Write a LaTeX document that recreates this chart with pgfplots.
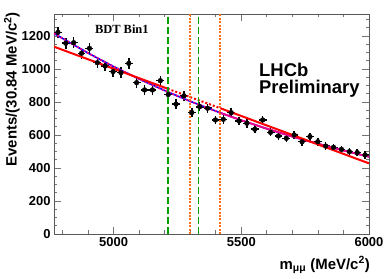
\documentclass[border=0pt]{standalone}
\usepackage{pgfplots}
\pgfplotsset{compat=1.18}
\usepackage{pgfplotstable}
\usepackage{fontspec}
\setmainfont{Liberation Sans}
\newfontfamily\serifbold{Liberation Serif}
\definecolor{rootgreen}{RGB}{0,160,0}
\definecolor{rootorange}{RGB}{255,110,20}

\pgfplotstableread{
x y ex ey
4781.82 1222 15.42 35
4812.66 1156 15.42 34
4843.50 1159 15.42 34
4874.34 1095 15.42 33
4905.18 1125 15.42 34
4936.02 1038 15.42 32
4966.86 1018 15.42 32
4997.70 984 15.42 31
5028.54 978 15.42 31
5059.38 1034 15.42 32
5090.22 917 15.42 30
5121.06 873 15.42 30
5151.90 873 15.42 30
5182.74 929 15.42 30
5213.58 845 15.42 29
5244.42 787 15.42 28
5275.26 837 15.42 29
5306.10 736 15.42 27
5336.94 771 15.42 28
5367.78 762 15.42 28
5398.62 691 15.42 26
5429.46 695 15.42 26
5460.30 735 15.42 27
5491.14 685 15.42 26
5521.98 671 15.42 26
5552.82 635 15.42 25
5583.66 691 15.42 26
5614.50 616 15.42 25
5645.34 594 15.42 24
5676.18 580 15.42 24
5707.02 600 15.42 24
5737.86 559 15.42 24
5768.70 590 15.42 24
5799.54 559 15.42 24
5830.38 533 15.42 23
5861.22 525 15.42 23
5892.06 513 15.42 23
5922.90 499 15.42 22
5953.74 493 15.42 22
5984.58 479 15.42 22
}\datatable

\pgfplotstableread{
x y
4766.4 1215
4900 1096
5000 1014
5100 939
5212 861
5300 804
5418 734
5500 689
5600 638
5700 590
5800 547
5900 506
6000 468
}\expfit

\begin{document}
\begin{tikzpicture}
\path (-54bp,-45bp) rectangle (335bp,234bp);
\begin{axis}[
  at={(0,0)}, anchor=south west,
  scale only axis, width=315bp, height=220bp,
  xmin=4766.4, xmax=6000, ymin=0, ymax=1333,
  xtick={5000,5500,6000},
  minor xtick={4800,4900,5100,5200,5300,5400,5600,5700,5800,5900},
  ytick={0,200,400,600,800,1000,1200},
  minor ytick={50,100,150,250,300,350,450,500,550,650,700,750,850,900,950,1050,1100,1150,1250,1300},
  tick align=inside, xtick pos=both, ytick pos=both,
  xticklabel pos=lower, yticklabel pos=left,
  major tick length=7bp, minor tick length=3.5bp,
  tick style={black!55, line width=0.8bp},
  axis line style={black!65, line width=0.8bp},
  /pgf/number format/assume math mode=true,
  /pgf/number format/1000 sep={},
  ticklabel style={font=\bfseries\fontsize{13}{15}\selectfont},
  clip=true,
]
\addplot[only marks, mark=*, mark size=2.4bp, black,
  error bars/.cd, x dir=both, x explicit, y dir=both, y explicit,
  error mark=none, error bar style={line width=1.5bp, black}]
  table[x=x, y=y, x error=ex, y error=ey]{\datatable};

% blue exponential fit
\addplot[blue, line width=1.6bp, mark=none] table[x=x,y=y]{\expfit};
% magenta: dotted in the left part, solid in the right part
\addplot[magenta, line width=1.9bp, dash pattern=on 1.9bp off 1.9bp, mark=none, restrict x to domain=4766:5418] table[x=x,y=y]{\expfit};
\addplot[magenta, line width=1.9bp, mark=none, restrict x to domain=5418:6000] table[x=x,y=y]{\expfit};
% red linear fit
\addplot[red, line width=2bp, mark=none] coordinates {(4766.4,1135) (5212,880)};
\addplot[red, line width=2bp, dash pattern=on 2bp off 2bp, mark=none] coordinates {(5212,880) (5418,762)};
\addplot[red, line width=2bp, mark=none] coordinates {(5418,762) (6000,428)};

% windows
\addplot[draw=rootgreen, line width=1.6bp, dash pattern=on 7bp off 3bp, mark=none] coordinates {(5212,0) (5212,1333)};
\addplot[draw=rootgreen, line width=1.6bp, dash pattern=on 7bp off 3bp, mark=none] coordinates {(5332,0) (5332,1333)};
\addplot[draw=rootorange, line width=1.8bp, dash pattern=on 2bp off 1.4bp, mark=none] coordinates {(5298,0) (5298,1333)};
\addplot[draw=rootorange, line width=1.8bp, dash pattern=on 2bp off 1.4bp, mark=none] coordinates {(5418,0) (5418,1333)};

\node[font=\serifbold\bfseries\fontsize{12.5}{14}\selectfont, inner sep=0pt] at (axis cs:5032,1242) {BDT Bin1};
\end{axis}
\node[font=\bfseries\fontsize{18.5}{20}\selectfont, inner sep=0pt, anchor=base west] at (205bp,157bp) {LHCb};
\node[font=\bfseries\fontsize{18.5}{20}\selectfont, inner sep=0pt, anchor=base west] at (205bp,140bp) {Preliminary};
\node[font=\bfseries\fontsize{15}{17}\selectfont, inner sep=0pt, rotate=90, anchor=east] at (-42bp,222bp) {Events/(30.84 MeV/c\textsuperscript{2})};
\node[font=\bfseries\fontsize{15}{17}\selectfont, inner sep=0pt, anchor=base east] at (316bp,-35bp) {m\textsubscript{μμ} (MeV/c\textsuperscript{2})};
\end{tikzpicture}
\end{document}
